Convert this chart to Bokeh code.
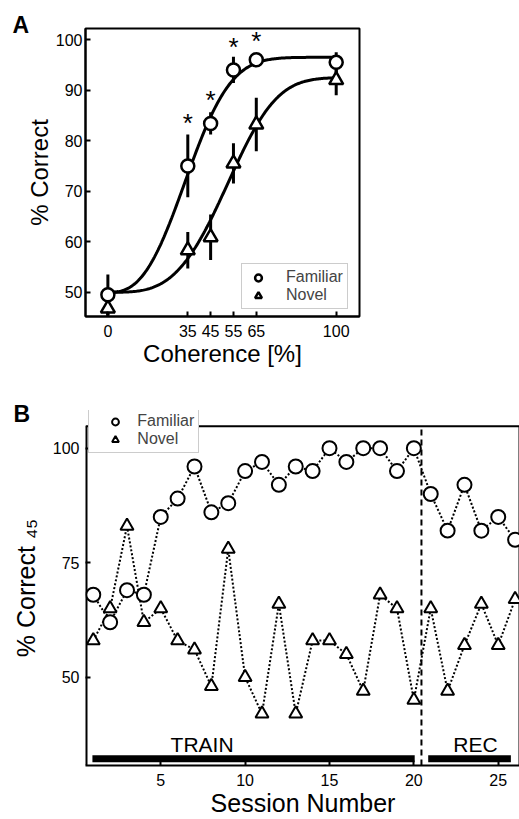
import numpy as np
from bokeh.plotting import figure
from bokeh.models import Legend, LegendItem, Label, FixedTicker, Range1d
from bokeh.layouts import column
from bokeh.embed import file_html
from bokeh.resources import INLINE
from bokeh.core.properties import value

FONT = "Liberation Sans"

# ---------------- Panel A data ----------------
coherence = [0, 35, 45, 55, 65, 100]
fam_pct = [49.5, 75.0, 83.4, 94.0, 96.0, 95.5]
fam_err = [4.0, 6.2, 2.2, 2.6, 1.2, 2.0]
nov_pct = [46.8, 58.3, 60.9, 75.5, 83.2, 92.0]
nov_err = [2.0, 3.6, 4.5, 4.0, 5.3, 3.0]
sig_coherence = [35, 45, 55, 65]
sig_y = [84.2, 88.8, 99.4, 100.6]
# Weibull psychometric fit parameters (chance = 50 %)
fam_fit = dict(alpha=40.0, beta=2.7, top=96.5)
nov_fit = dict(alpha=58.0, beta=3.5, top=92.5)
a_xticks = [0, 35, 45, 55, 65, 100]
a_yticks = [50, 60, 70, 80, 90, 100]

# ---------------- Panel B data ----------------
sessions = list(range(1, 27))
fam_sess = [68, 62, 69, 68, 85, 89, 96, 86, 88, 95, 97, 92, 96, 95, 100, 97,
            100, 100, 95, 100, 90, 82, 92, 82, 85, 80]
nov_sess = [58, 65, 83, 62, 65, 58, 56, 48, 78, 50, 42, 66, 42, 58, 58, 55,
            47, 68, 65, 45, 65, 47, 57, 66, 57, 67]
phases = ["TRAIN", "REC"]
phase_start = [0.95, 20.85]
phase_end = [20.05, 25.75]
phase_label_x = [7.45, 23.65]
rec_boundary = 20.45
b_xticks = [5, 10, 15, 20, 25]
b_yticks = [50, 75, 100]

# axis limits
a_xlim = (-9.8, 110.2)
a_ylim = (45.2, 102.2)
b_xlim = (0.54, 26.32)
b_ylim = (30.72, 104.8)      # box of panel B
b_ytop = 108.23             # extra room above the box for the legend
bar_y = 32.2
label_y = 35.3


def weibull(x, alpha, beta, top):
    return 50 + (top - 50) * (1 - np.exp(-(x / alpha) ** beta))


def style(p, tick_size, label_size):
    for ax in (p.xaxis[0], p.yaxis[0]):
        ax.axis_line_width = 2
        ax.axis_line_color = "black"
        ax.major_tick_in = 5
        ax.major_tick_out = 0
        ax.minor_tick_in = 0
        ax.minor_tick_out = 0
        ax.major_tick_line_width = 2
        ax.major_label_text_font = FONT
        ax.major_label_text_font_size = tick_size
        ax.major_label_text_color = "black"
        ax.axis_label_text_font = FONT
        ax.axis_label_text_font_size = label_size
        ax.axis_label_text_font_style = "normal"
        ax.axis_label_text_color = "black"
    p.xgrid.visible = False
    p.ygrid.visible = False
    p.background_fill_color = "white"
    p.border_fill_color = "white"


# ================= Panel A =================
pA = figure(frame_width=274, frame_height=288, min_border_left=85, min_border_right=5,
            min_border_top=28, min_border_bottom=64,
            x_range=Range1d(*a_xlim), y_range=Range1d(*a_ylim),
            output_backend="svg", toolbar_location=None)
style(pA, "16px", "24px")
pA.outline_line_color = "black"
pA.outline_line_width = 2
pA.outline_line_alpha = 1
pA.xaxis.ticker = FixedTicker(ticks=a_xticks)
pA.yaxis.ticker = FixedTicker(ticks=a_yticks)
pA.xaxis.axis_label = "Coherence [%]"
pA.yaxis.axis_label = "% Correct"
pA.xaxis.major_label_standoff = 8
pA.xaxis.axis_label_standoff = 0
pA.yaxis.major_label_standoff = 3
pA.yaxis.axis_label_standoff = 0

xs = np.linspace(0, 100, 201)
pA.line(xs, weibull(xs, **fam_fit), line_color="black", line_width=3)
pA.line(xs, weibull(xs, **nov_fit), line_color="black", line_width=3)

fam_lo = [v - e for v, e in zip(fam_pct, fam_err)]
fam_hi = [v + e for v, e in zip(fam_pct, fam_err)]
nov_lo = [v - e for v, e in zip(nov_pct, nov_err)]
nov_hi = [v + e for v, e in zip(nov_pct, nov_err)]
pA.segment(x0=coherence, y0=fam_lo, x1=coherence, y1=fam_hi, line_color="black", line_width=3)
pA.segment(x0=coherence, y0=nov_lo, x1=coherence, y1=nov_hi, line_color="black", line_width=3)

rA_nov = pA.scatter(coherence, nov_pct, marker="triangle", size=14, fill_color="white",
                    line_color="black", line_width=2.5)
rA_fam = pA.scatter(coherence, fam_pct, marker="circle", size=13, fill_color="white",
                    line_color="black", line_width=2.5)

pA.text(x=sig_coherence, y=sig_y, text=["*"] * len(sig_coherence),
        text_font=value(FONT), text_font_size="26px", text_align="center",
        text_baseline="middle", y_offset=4, text_color="black")

legA = Legend(items=[LegendItem(label="Familiar", renderers=[rA_fam]),
                     LegendItem(label="Novel", renderers=[rA_nov])],
              location=(156, 7), padding=4, spacing=0, margin=0,
              glyph_width=24, glyph_height=17, label_height=17, label_standoff=16,
              label_text_font=FONT, label_text_font_size="16px",
              border_line_color="#999999", border_line_width=1,
              background_fill_color="white", background_fill_alpha=1)
pA.add_layout(legA)
pA.add_layout(Label(x=12, y=24, x_units="canvas", y_units="canvas", text="A",
                    text_font=FONT, text_font_size="23px", text_font_style="bold",
                    text_baseline="middle", text_color="black"), "above")

# ================= Panel B =================
pB = figure(frame_width=435, frame_height=355, min_border_left=83, min_border_right=1,
            min_border_top=30, min_border_bottom=54,
            x_range=Range1d(*b_xlim), y_range=Range1d(b_ylim[0], b_ytop),
            output_backend="svg", toolbar_location=None)
style(pB, "16px", "25px")
pB.outline_line_color = None
pB.yaxis.axis_line_color = None
pB.xaxis.ticker = FixedTicker(ticks=b_xticks)
pB.yaxis.ticker = FixedTicker(ticks=b_yticks)
pB.xaxis.axis_label = "Session Number"
pB.yaxis.axis_label = "% Correct \u2084\u2085"
pB.xaxis.major_label_standoff = 8
pB.xaxis.axis_label_standoff = 0
pB.yaxis.major_label_standoff = 6
pB.yaxis.axis_label_standoff = 10

# box of panel B (left, right, top edges)
pB.segment(x0=[b_xlim[0], b_xlim[1]], y0=[b_ylim[0]] * 2,
           x1=[b_xlim[0], b_xlim[1]], y1=[b_ylim[1]] * 2,
           line_color="black", line_width=4)
pB.segment(x0=[b_xlim[0]], y0=[b_ylim[1]], x1=[b_xlim[1]], y1=[b_ylim[1]],
           line_color="black", line_width=2)
# TRAIN / REC boundary
pB.segment(x0=[rec_boundary], y0=[b_ylim[0]], x1=[rec_boundary], y1=[b_ylim[1]],
           line_color="black", line_width=2, line_dash="6 4")
pB.segment(x0=phase_start, y0=[bar_y] * 2, x1=phase_end, y1=[bar_y] * 2,
           line_color="black", line_width=7)
pB.text(x=phase_label_x, y=[label_y] * 2, text=phases, text_font=value(FONT),
        text_font_size="21px", text_align="center", text_baseline="middle",
        text_color="black")

pB.line(sessions, fam_sess, line_color="black", line_width=2, line_dash="2 2")
pB.line(sessions, nov_sess, line_color="black", line_width=2, line_dash="2 2")
rB_nov = pB.scatter(sessions, nov_sess, marker="triangle", size=13, fill_color="white",
                    line_color="black", line_width=2)
rB_fam = pB.scatter(sessions, fam_sess, marker="circle", size=14, fill_color="white",
                    line_color="black", line_width=2)

legB = Legend(items=[LegendItem(label="Familiar", renderers=[rB_fam]),
                     LegendItem(label="Novel", renderers=[rB_nov])],
              location=(9, 312), padding=4, spacing=0, margin=0,
              glyph_width=44, glyph_height=17, label_height=17, label_standoff=0,
              label_text_font=FONT, label_text_font_size="16px",
              border_line_color="#999999", border_line_width=1,
              background_fill_color="white", background_fill_alpha=1)
pB.add_layout(legB)
pB.add_layout(Label(x=13, y=33, x_units="canvas", y_units="canvas", text="B",
                    text_font=FONT, text_font_size="23px", text_font_style="bold",
                    text_baseline="middle", text_color="black"), "above")

layout = column(pA, pB, spacing=0)
open("out.html", "w").write(file_html(layout, INLINE))
